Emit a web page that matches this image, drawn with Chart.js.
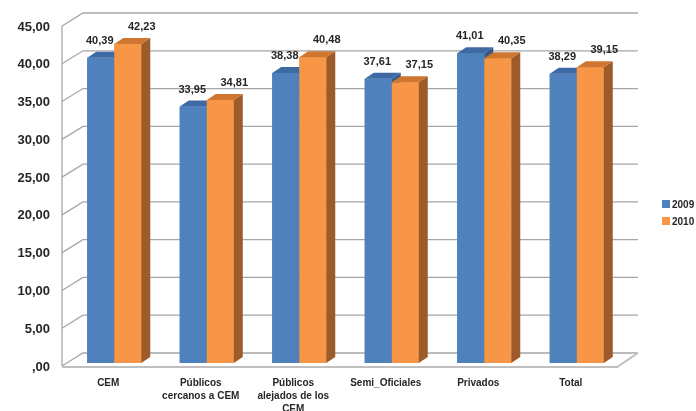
<!DOCTYPE html>
<html>
<head>
<meta charset="utf-8">
<script src="https://cdn.jsdelivr.net/npm/chart.js@4.4.1/dist/chart.umd.min.js"></script>
<style>
  body { margin: 0; background: #fff; }
  canvas { display: block; }
</style>
</head>
<body>
<canvas id="grafico" width="696" height="411"></canvas>
<script>
// Datos
const categorias = [
    ['CEM'],
    ['Públicos', 'cercanos a CEM'],
    ['Públicos', 'alejados de los', 'CEM'],
    ['Semi_Oficiales'],
    ['Privados'],
    ['Total']
];
const anios = ['2009', '2010'];
const valores2009 = [40.39, 33.95, 38.38, 37.61, 41.01, 38.29];
const valores2010 = [42.23, 34.81, 40.48, 37.15, 40.35, 39.15];
const ticksY = [0, 5, 10, 15, 20, 25, 30, 35, 40, 45];
const etiquetasY = [',00', '5,00', '10,00', '15,00', '20,00', '25,00', '30,00', '35,00', '40,00', '45,00'];

const colores = [
    { frente: '#4F81BD', arriba: '#3D6AA3', lado: '#335A8A' },
    { frente: '#F79646', arriba: '#CF7630', lado: '#9C5B28' }
];

// desplazamientos del efecto 3D
const prof = { dx: 9, dy: -6 };      // fondo de cada barra
const frente = { dx: -6, dy: 3 };    // pared frontal (eje)
const fondo = { dx: 15, dy: -10 };   // pared del fondo

function formato(v) {
    return v.toFixed(2).replace('.', ',');
}

const efecto3D = {
    id: 'efecto3D',
    beforeDatasetsDraw(chart) {
        const c = chart.ctx;
        const area = chart.chartArea;
        const y = chart.scales.y;
        c.save();
        c.strokeStyle = '#A6A6A6';
        c.lineWidth = 1.3;
        ticksY.forEach((v) => {
            const py = y.getPixelForValue(v);
            c.beginPath();
            c.moveTo(area.left + frente.dx, py + frente.dy);
            c.lineTo(area.left + fondo.dx, py + fondo.dy);
            c.lineTo(area.right + fondo.dx, py + fondo.dy);
            c.stroke();
        });
        // eje vertical frontal
        c.beginPath();
        c.moveTo(area.left + frente.dx, y.getPixelForValue(45) + frente.dy);
        c.lineTo(area.left + frente.dx, y.getPixelForValue(0) + frente.dy);
        c.stroke();
        // piso
        const p0 = y.getPixelForValue(0);
        c.strokeStyle = '#BFBFBF';
        c.lineWidth = 2;
        c.beginPath();
        c.moveTo(area.left + frente.dx, p0 + frente.dy + 1);
        c.lineTo(area.right + frente.dx, p0 + frente.dy + 1);
        c.lineTo(area.right + fondo.dx, p0 + fondo.dy);
        c.stroke();
        // etiquetas eje Y
        c.fillStyle = '#262626';
        c.font = 'bold 13px "Liberation Sans", Arial, sans-serif';
        c.textAlign = 'right';
        c.textBaseline = 'middle';
        ticksY.forEach((v, i) => {
            c.fillText(etiquetasY[i], area.left - 18, y.getPixelForValue(v) + frente.dy + 1);
        });
        // etiquetas de categorias
        const x = chart.scales.x;
        c.font = 'bold 10px "Liberation Sans", Arial, sans-serif';
        c.textAlign = 'center';
        c.textBaseline = 'middle';
        categorias.forEach((lineas, i) => {
            const px = x.getPixelForValue(i) + frente.dx;
            lineas.forEach((t, j) => {
                c.fillText(t, px, p0 + 20 + j * 13);
            });
        });
        // leyenda
        c.font = 'bold 10px "Liberation Sans", Arial, sans-serif';
        c.textAlign = 'left';
        anios.forEach((a, i) => {
            const ly = 204 + i * 17;
            c.fillStyle = colores[i].frente;
            c.fillRect(662, ly - 4, 8, 8);
            c.fillStyle = '#262626';
            c.fillText(a, 672, ly + 1);
        });
        c.restore();
    },
    afterDatasetsDraw(chart) {
        const c = chart.ctx;
        const metas = [chart.getDatasetMeta(0), chart.getDatasetMeta(1)];
        c.save();
        for (let i = 0; i < categorias.length; i++) {
            metas.forEach((meta, d) => {
                const b = meta.data[i];
                const x0 = b.x - b.width / 2;
                const x1 = b.x + b.width / 2;
                const top = b.y;
                const base = b.base;
                const col = colores[d];
                c.fillStyle = col.frente;
                c.fillRect(x0, top, x1 - x0, base - top);
                c.fillStyle = col.lado;
                c.beginPath();
                c.moveTo(x1, top);
                c.lineTo(x1 + prof.dx, top + prof.dy);
                c.lineTo(x1 + prof.dx, base + prof.dy);
                c.lineTo(x1, base);
                c.closePath();
                c.fill();
                c.fillStyle = col.arriba;
                c.beginPath();
                c.moveTo(x0, top);
                c.lineTo(x1, top);
                c.lineTo(x1 + prof.dx, top + prof.dy);
                c.lineTo(x0 + prof.dx, top + prof.dy);
                c.closePath();
                c.fill();
            });
        }
        // etiquetas de datos
        c.fillStyle = '#262626';
        c.font = 'bold 11px "Liberation Sans", Arial, sans-serif';
        c.textAlign = 'center';
        c.textBaseline = 'middle';
        const desp = [-1, 14];
        metas.forEach((meta, d) => {
            meta.data.forEach((b, i) => {
                const v = chart.data.datasets[d].data[i];
                c.fillText(formato(v), b.x + desp[d], b.y - 17);
            });
        });
        c.restore();
    }
};

new Chart(document.getElementById('grafico'), {
    type: 'bar',
    data: {
        labels: categorias,
        datasets: [
            { label: anios[0], data: valores2009, backgroundColor: colores[0].frente },
            { label: anios[1], data: valores2010, backgroundColor: colores[1].frente }
        ]
    },
    options: {
        responsive: false,
        animation: false,
        categoryPercentage: 0.584,
        barPercentage: 1,
        layout: {
            padding: { left: 68, right: 73, top: 23, bottom: 48 }
        },
        plugins: {
            legend: { display: false },
            tooltip: { enabled: false }
        },
        scales: {
            x: { display: false },
            y: { display: false, min: 0, max: 45 }
        }
    },
    plugins: [efecto3D]
});
</script>
</body>
</html>
